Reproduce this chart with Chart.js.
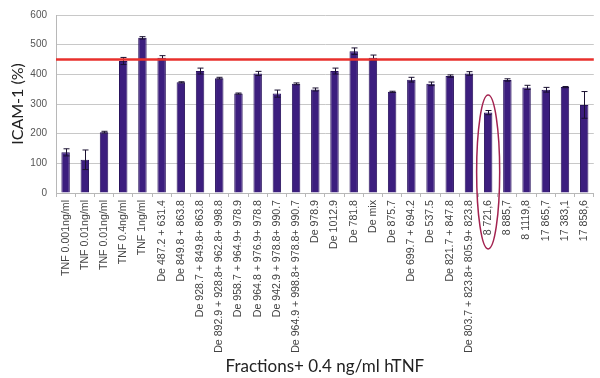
<!DOCTYPE html>
<html>
<head>
<meta charset="utf-8">
<script src="https://cdn.jsdelivr.net/npm/chart.js@4/dist/chart.umd.min.js"></script>
<style>
  html, body { margin: 0; padding: 0; background: #fff; }
  #wrap { width: 600px; height: 378px; position: relative; }
</style>
</head>
<body>
<div id="wrap"><canvas id="c" width="600" height="378"></canvas></div>
<script>
const categories = [
  "TNF 0.001ng/ml", "TNF 0.01ng/ml", "TNF 0.01ng/ml", "TNF 0.4ng/ml", "TNF 1ng/ml",
  "De 487.2 + 631.4", "De 849.8 + 863.8", "De 928.7 + 849.8+ 863.8",
  "De 892.9 + 928.8+ 962.8+ 998.8", "De 958.7 + 964.9+ 978.9", "De 964.8 + 976.9+ 978.8",
  "De 942.9 + 978.8+ 990.7", "De 964.9 + 998.8+ 978.8+ 990.7", "De 978.9", "De 1012.9",
  "De 781.8", "De mix", "De 875.7", "De 699.7 + 694.2", "De 537.5", "De 821.7 + 847.8",
  "De 803.7 + 823.8+ 805.9+ 823.8", "8 721,6", "8 885,7", "8 1119,8", "17 865,7",
  "17 383,1", "17 858,6"
];
const icamValues = [137, 112, 205, 445, 523, 456, 373, 411, 387, 335, 403, 335, 368, 349,
  411, 478, 456, 341, 382, 368, 394, 403, 271, 381, 356, 348, 357, 297];
const icamErrors = [12, 33, 3, 12, 4, 7, 2, 10, 3, 2, 7, 12, 3, 5, 10, 11, 9, 2, 8, 6, 4,
  6, 7, 4, 7, 8, 2, 45];
const referenceLevel = 450;
const highlightIndex = 22;
const highlightTopValue = 330;
const yTicks = [0, 100, 200, 300, 400, 500, 600];

const overlayPlugin = {
  id: 'overlay',
  afterDatasetsDraw(chart) {
    const ctx = chart.ctx;
    const x = chart.scales.x, y = chart.scales.y;
    const area = chart.chartArea;
    ctx.save();
    ctx.strokeStyle = '#1a1030';
    ctx.lineWidth = 1;
    icamValues.forEach((v, i) => {
      const e = icamErrors[i];
      const cx = Math.round(x.getPixelForValue(i)) + 0.5;
      const yt = y.getPixelForValue(v + e);
      const yb = y.getPixelForValue(v - e);
      ctx.beginPath();
      ctx.moveTo(cx, yt); ctx.lineTo(cx, yb);
      ctx.moveTo(cx - 3, yt); ctx.lineTo(cx + 3, yt);
      ctx.moveTo(cx - 3, yb); ctx.lineTo(cx + 3, yb);
      ctx.stroke();
    });
    ctx.restore();
    ctx.save();
    ctx.strokeStyle = '#e8302c';
    ctx.lineWidth = 2.5;
    const ry = y.getPixelForValue(referenceLevel);
    ctx.beginPath();
    ctx.moveTo(area.left, ry); ctx.lineTo(area.right, ry);
    ctx.stroke();
    ctx.restore();
    ctx.save();
    ctx.strokeStyle = '#a3224f';
    ctx.lineWidth = 1.5;
    const ex = x.getPixelForValue(highlightIndex);
    const top = y.getPixelForValue(highlightTopValue);
    const bottom = area.bottom + 56;
    const rx = x.width / categories.length * 0.6;
    ctx.beginPath();
    ctx.ellipse(ex, (top + bottom) / 2, rx, (bottom - top) / 2, 0, 0, Math.PI * 2);
    ctx.stroke();
    ctx.restore();
  }
};

new Chart(document.getElementById('c'), {
  type: 'bar',
  data: {
    labels: categories,
    datasets: [{
      data: icamValues,
      backgroundColor: '#3c1e7e',
      borderColor: '#2a145e',
      borderWidth: 1,
      barPercentage: 0.44,
      categoryPercentage: 1
    }]
  },
  options: {
    responsive: false,
    animation: false,
    devicePixelRatio: 1,
    layout: { padding: { top: 11, right: 5, left: 0, bottom: 0 } },
    plugins: { legend: { display: false }, tooltip: { enabled: false } },
    scales: {
      x: {
        grid: { drawOnChartArea: false, drawTicks: true, tickLength: 4, color: '#b8b8b8', offset: true },
        border: { color: '#b8b8b8' },
        ticks: {
          autoSkip: false, maxRotation: 90, minRotation: 90, padding: 3,
          color: '#444', font: { family: 'Liberation Sans', size: 10.6 }
        },
        title: {
          display: true, text: 'Fractions+ 0.4 ng/ml hTNF', color: '#222',
          font: { family: 'Lato', size: 17 }, padding: { top: 0, bottom: 1 }
        },
        afterFit(s) { s.height = 185; }
      },
      y: {
        min: 0, max: 600,
        afterBuildTicks(s) { s.ticks = yTicks.map(v => ({ value: v })); },
        grid: { color: '#c8c8c8', drawTicks: false },
        border: { color: '#b8b8b8' },
        ticks: { padding: 9, color: '#555', font: { family: 'Liberation Sans', size: 10 } },
        title: {
          display: true, text: 'ICAM-1 (%)', color: '#222',
          font: { family: 'Lato', size: 16 }, padding: { top: 8, bottom: 0 }
        },
        afterFit(s) { s.width = 56; }
      }
    }
  },
  plugins: [overlayPlugin]
});
</script>
</body>
</html>
